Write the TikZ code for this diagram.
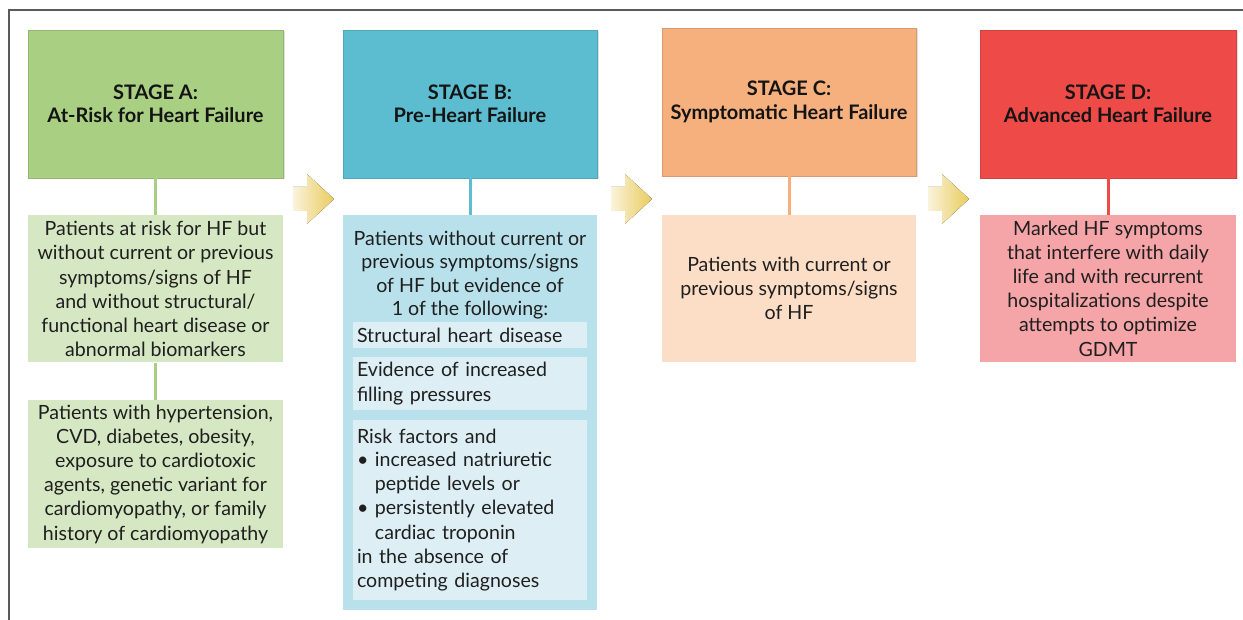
\documentclass[tikz,border=0pt]{standalone}
\usepackage{fontspec}
\setmainfont{Lato}
\usetikzlibrary{shadows}
\definecolor{grA}{HTML}{A9CF82}
\definecolor{grAl}{HTML}{D6E8C3}
\definecolor{blB}{HTML}{5DBDD0}
\definecolor{blBl}{HTML}{B9E1EB}
\definecolor{blBs}{HTML}{DDEFF5}
\definecolor{orC}{HTML}{F5B07E}
\definecolor{orCl}{HTML}{FCDDC6}
\definecolor{rdD}{HTML}{EE4B48}
\definecolor{rdDl}{HTML}{F5A4A7}
\definecolor{arrL}{HTML}{FAF3DC}
\definecolor{arrR}{HTML}{E9CB5C}
\definecolor{frame}{HTML}{5A5A5A}
\tikzset{
  header/.style={fill=#1, draw=#1!88!black, line width=0.8pt, minimum width=255pt, minimum height=148pt,
    inner sep=0pt, align=center, font=\fontsize{20}{23.5}\selectfont\bfseries, text=black!92,
    drop shadow={shadow xshift=1.5pt, shadow yshift=-1.5pt, opacity=0.25}},
  body/.style={fill=#1, draw=none, minimum width=255pt, inner sep=0pt, align=center,
    font=\fontsize{19.6}{24.2}\selectfont, text=black!88},
  sub/.style={fill=blBs, draw=none, minimum width=234pt, inner sep=0pt, text width=226pt, align=left,
    font=\fontsize{19.6}{24.2}\selectfont, text=black!88},
  link/.style={draw=#1, line width=3pt},
  stagearrow/.style={left color=arrL, right color=arrR, draw=none},
}
\begin{document}
\begin{tikzpicture}[x=1pt,y=-1pt]
\useasboundingbox (0,0) rectangle (1243,620);
% frame
\draw[frame, line width=1.8pt] (9,620) -- (9,10) -- (1243,10);

% headers
\node[header=grA] (hA) at (155.5,104) {STAGE A:\\At-Risk for Heart Failure};
\node[header=blB, minimum width=254pt] (hB) at (470,104) {STAGE B:\\Pre-Heart Failure};
\node[header=orC, minimum width=254pt] (hC) at (789,102) {STAGE C:\\Symptomatic Heart Failure};
\node[header=rdD, minimum width=256pt] (hD) at (1108,104) {STAGE D:\\Advanced Heart Failure};

% bodies
\node[body=grAl, minimum height=147pt] (a1) at (155.5,289) {Patients at risk for HF but\\without current or previous\\symptoms/signs of HF\\and without structural/\\functional heart disease or\\abnormal biomarkers};
\node[body=grAl, minimum height=148pt] (a2) at (155.5,474) {Patients with hypertension,\\CVD, diabetes, obesity,\\exposure to cardiotoxic\\agents, genetic variant for\\cardiomyopathy, or family\\history of cardiomyopathy};

\node[body=blBl, minimum width=254pt, minimum height=395pt] (b) at (470,412.5) {};
\node[font=\fontsize{19.6}{23.6}\selectfont, text=black!88, align=center, inner sep=0pt] (btxt) at (470,275) {Patients without current or\\previous symptoms/signs\\of HF but evidence of\\1 of the following:};
\node[sub, minimum height=26pt] (s1) at (470,335) {Structural heart disease};
\node[sub, minimum height=53pt] (s2) at (470,383.5) {Evidence of increased\\filling pressures};
\node[sub, minimum height=180pt] (s3) at (470,510) {Risk factors and\\[-1pt]
\textbullet\ increased natriuretic\\
\hphantom{\textbullet\ }peptide levels or\\
\textbullet\ persistently elevated\\
\hphantom{\textbullet\ }cardiac troponin\\
in the absence of\\
competing diagnoses};

\node[body=orCl, minimum width=254pt, minimum height=147pt] (c) at (789,288.5) {Patients with current or\\previous symptoms/signs\\of HF};
\node[body=rdDl, minimum width=256pt, minimum height=147pt] (d) at (1108,288.5) {Marked HF symptoms\\that interfere with daily\\life and with recurrent\\hospitalizations despite\\attempts to optimize\\GDMT};

% connectors
\draw[link=grA] (hA.south) -- (a1.north);
\draw[link=grA] (a1.south) -- (a2.north);
\draw[link=blB] (hB.south) -- (b.north);
\draw[link=orC] (hC.south) -- (c.north);
\draw[link=rdD] (hD.south) -- (d.north);

% stage arrows
\foreach \x/\n in {293/ar1, 611/ar2, 928/ar3}{
  \coordinate (\n) at (\x,199);
  \fill[stagearrow] (\n) ++(0,-12) -- ++(14,0) -- ++(0,-13) -- ++(27,25) -- ++(-27,25) -- ++(0,-13) -- ++(-14,0) -- cycle;
}
\end{tikzpicture}
\end{document}
